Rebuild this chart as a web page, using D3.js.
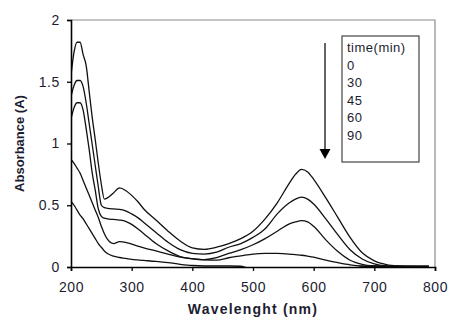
<!DOCTYPE html>
<html>
<head>
<meta charset="utf-8">
<script src="https://cdn.jsdelivr.net/npm/d3@7/dist/d3.min.js"></script>
<style>
  body { margin: 0; background: #fff; }
  text { font-family: "Liberation Sans", Arial, sans-serif; fill: #1c1c30; }
</style>
</head>
<body>
<div id="chart"></div>
<script>
// wavelength grid (nm)
const wavelength = [200, 205, 210, 215, 220, 225, 230, 235, 240, 245, 250, 255, 260, 270, 280, 290, 300, 310, 320, 340,
  360, 380, 400, 420, 440, 460, 480, 500, 520, 540, 560, 570, 580, 590, 600, 620, 640, 660, 680, 700, 720, 740, 760, 790];

// absorbance per irradiation time
const abs0 = [1.55, 1.74, 1.82, 1.82, 1.72, 1.63, 1.42, 1.21, 1.03, 0.84, 0.67, 0.55, 0.56, 0.60, 0.64, 0.62, 0.58, 0.53, 0.47, 0.38,
  0.29, 0.21, 0.155, 0.143, 0.16, 0.19, 0.23, 0.29, 0.39, 0.52, 0.68, 0.75, 0.79, 0.77, 0.71, 0.56, 0.40, 0.24, 0.115, 0.05, 0.02, 0.008, 0.004, 0];
const abs30 = [1.38, 1.47, 1.51, 1.51, 1.46, 1.33, 1.16, 0.99, 0.82, 0.65, 0.50, 0.48, 0.475, 0.47, 0.467, 0.455, 0.43, 0.40, 0.36, 0.28,
  0.20, 0.14, 0.11, 0.105, 0.12, 0.16, 0.19, 0.24, 0.31, 0.43, 0.52, 0.55, 0.565, 0.55, 0.51, 0.39, 0.26, 0.14, 0.065, 0.025, 0.008, 0.003, 0.002, 0];
const abs45 = [1.20, 1.29, 1.33, 1.33, 1.27, 1.12, 0.95, 0.76, 0.62, 0.47, 0.41, 0.395, 0.39, 0.385, 0.38, 0.37, 0.345, 0.31, 0.27, 0.19,
  0.13, 0.085, 0.068, 0.06, 0.075, 0.11, 0.14, 0.18, 0.23, 0.29, 0.35, 0.365, 0.375, 0.365, 0.33, 0.22, 0.125, 0.055, 0.022, 0.008, 0.003, 0.002, 0.001, 0];
const abs60 = [0.87, 0.84, 0.80, 0.76, 0.70, 0.64, 0.58, 0.52, 0.46, 0.40, 0.33, 0.27, 0.225, 0.19, 0.205, 0.20, 0.185, 0.17, 0.155, 0.13,
  0.105, 0.08, 0.065, 0.057, 0.055, 0.075, 0.09, 0.105, 0.11, 0.11, 0.105, 0.10, 0.095, 0.088, 0.08, 0.055, 0.035, 0.018, 0.008, 0.004, 0.003, 0.002, 0.002, 0];
const abs90 = [0.53, 0.50, 0.46, 0.42, 0.39, 0.35, 0.31, 0.27, 0.23, 0.19, 0.16, 0.13, 0.11, 0.088, 0.077, 0.07, 0.062, 0.057, 0.053, 0.045,
  0.035, 0.022, 0.012, 0.008, 0.008, 0.008, 0.006, -0.02, -0.02, -0.02, -0.02, -0.02, -0.02, -0.02, -0.02, -0.02, -0.02, -0.02, 0.002, 0.008, 0.008, 0.008, 0.008, 0.008];

const series = [abs0, abs30, abs45, abs60, abs90];
const legendTitle = 'time(min)';
const times = ['0', '30', '45', '60', '90'];
const xTicks = [200, 300, 400, 500, 600, 700, 800];
const yTicks = [0, 0.5, 1, 1.5, 2];

const width = 450, height = 320;
const margin = {top: 20, right: 15, bottom: 53, left: 71};

const svg = d3.select('#chart')
  .append('svg')
    .attr('width', width)
    .attr('height', height);

const x = d3.scaleLinear().domain([200, 800]).range([margin.left, width - margin.right]);
const y = d3.scaleLinear().domain([0, 2]).range([height - margin.bottom, margin.top]);

// frame (top/right in grey)
svg.append('path')
  .attr('d', `M${x(200)},${y(2)}H${x(800)}V${y(0)}`)
  .attr('fill', 'none')
  .attr('stroke', '#8c8c8c')
  .attr('stroke-width', 1.2);

svg.append('clipPath').attr('id', 'plot')
  .append('rect')
    .attr('x', x(200)).attr('y', y(2))
    .attr('width', x(800) - x(200)).attr('height', y(0) - y(2));

const line = d3.line()
  .x((d, i) => x(wavelength[i]))
  .y(d => y(d))
  .curve(d3.curveMonotoneX);

svg.append('g')
  .attr('clip-path', 'url(#plot)')
  .selectAll('path')
  .data(series)
  .enter()
  .append('path')
    .attr('d', line)
    .attr('fill', 'none')
    .attr('stroke', '#111')
    .attr('stroke-width', 1.3);

const xAxis = svg.append('g')
  .attr('transform', `translate(0,${y(0)})`)
  .call(d3.axisBottom(x).tickValues(xTicks).tickSize(4).tickPadding(11).tickFormat(d3.format('d')));
const yAxis = svg.append('g')
  .attr('transform', `translate(${x(200)},0)`)
  .call(d3.axisLeft(y).tickValues(yTicks).tickSize(4).tickPadding(7).tickFormat(d => d));

[xAxis, yAxis].forEach(g => {
  g.select('.domain').attr('stroke', '#000').attr('stroke-width', 1.6);
  g.selectAll('.tick line').attr('stroke', '#000').attr('stroke-width', 1.3);
  g.selectAll('.tick text')
    .style('font-size', '14px')
    .style('letter-spacing', '0.6px')
    .style('font-family', '"Liberation Sans", Arial, sans-serif')
    .attr('fill', '#1c1c30');
});

svg.append('text')
  .attr('x', (x(200) + x(800)) / 2)
  .attr('y', 314)
  .attr('text-anchor', 'middle')
  .style('font-size', '14px')
  .style('letter-spacing', '1.2px')
  .style('font-weight', 'bold')
  .text('Wavelenght (nm)');

svg.append('text')
  .attr('transform', `translate(24,${(y(0) + y(2)) / 2}) rotate(-90)`)
  .attr('text-anchor', 'middle')
  .style('font-size', '13px')
  .style('font-weight', 'bold')
  .text('Absorbance (A)');

// legend
const legend = svg.append('g').attr('transform', 'translate(342,36)');
legend.append('rect')
  .attr('width', 77).attr('height', 126)
  .attr('fill', '#fff')
  .attr('stroke', '#444')
  .attr('stroke-width', 1.2);
legend.selectAll('text')
  .data([legendTitle].concat(times))
  .enter()
  .append('text')
    .attr('x', 5)
    .attr('y', (d, i) => 16 + i * 17.6)
    .style('font-size', '13px')
    .style('letter-spacing', '0.5px')
    .text(d => d);

// arrow
svg.append('line')
  .attr('x1', 325).attr('x2', 325)
  .attr('y1', 43).attr('y2', 150)
  .attr('stroke', '#111').attr('stroke-width', 1.3);
svg.append('path')
  .attr('d', 'M319.5,149L330.5,149L325,159Z')
  .attr('fill', '#000');
</script>
</body>
</html>
